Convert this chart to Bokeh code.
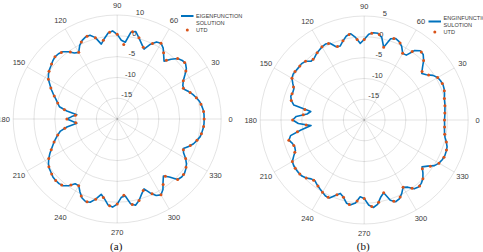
import numpy as np
from bokeh.plotting import figure
from bokeh.models import Range1d
from bokeh.embed import file_html
from bokeh.resources import INLINE
from bokeh.core.properties import value

# ---------------------------------------------------------------- data
# Field patterns in dB, sampled every 3 degrees from 0 to 357
EIG_ANGLES = list(range(0, 360, 3))
EIG_A = [
    0.9, 0.9, 0.8, 0.55, 0.25, -0.3, -0.9, -1.6, -2.4, -2.3,
    -1.65, -0.6, 0.55, 1.15, 1.05, 0.55, -0.65, -2.1, -1.0, 0.3,
    1.05, 0.8, -0.3, -2.0, -1.0, 0.2, 1.5, 1.15, -1.45, -1.05,
    0.35, 1.2, 0.8, -0.4, -1.6, 0.25, 1.15, 1.15, 0.7, -0.15,
    -1.5, -1.1, 0.0, 0.8, 1.1, 1.15, 0.85, 0.45, 0.15, -0.3,
    -0.9, -1.85, -2.7, -3.6, -4.5, -5.2, -5.8, -7.75, -10.25, -9.05,
    -7.9, -9.2, -10.25, -7.75, -6.05, -5.2, -4.4, -3.6, -2.8, -1.85,
    -1.0, -0.3, 0.2, 0.45, 0.8, 0.9, 0.9, 0.65, -0.15, -1.45,
    -1.5, -0.3, 0.8, 1.25, 1.05, -0.05, -1.5, -0.55, 0.8, 1.2,
    0.45, -1.15, -1.4, 0.65, 1.2, 0.3, -1.0, -2.0, -0.55, 0.65,
    1.05, 0.2, -1.25, -2.35, -1.25, 0.55, 0.85, 0.8, 0.4, -0.15,
    -1.0, -2.1, -2.6, -1.6, -0.7, -0.15, 0.4, 0.6, 0.8, 0.9,
]
EIG_B = [
    -0.7, -0.6, -0.5, -0.35, -0.2, -0.05, 0.3, 0.6, 0.75, 0.65,
    0.4, -0.3, -1.5, -2.2, -1.15, 0.2, 1.2, 1.4, 0.65, -1.4,
    -1.5, -0.15, 0.65, 1.0, 0.55, -1.9, 0.3, 1.1, 1.1, 0.65,
    -0.65, -1.55, -0.05, 1.0, 0.65, -0.3, -1.3, -1.15, 0.2, 0.5,
    0.3, -0.05, -0.4, -0.9, -0.95, -0.05, 0.25, 0.2, 0.25, 0.35,
    0.05, -0.75, -1.5, -1.6, -1.45, -1.85, -2.7, -7.0, -6.2, -3.65,
    -2.8, -4.15, -7.15, -4.6, -1.9, -1.25, -1.85, -2.1, -1.9, -1.0,
    -0.05, 0.2, 0.25, 0.25, 0.15, -0.3, -0.95, -1.2, -0.75, -0.35,
    0.05, 0.5, 0.5, -0.55, -1.45, -0.75, 0.45, 0.65, 0.05, -1.5,
    -1.15, 0.45, 1.15, 0.55, -1.0, -1.9, 0.3, 1.05, 0.75, -0.15,
    -1.3, -0.75, 0.45, 0.75, 0.5, -0.05, -1.0, -2.1, -1.15, 0.15,
    0.75, 1.05, 1.2, 1.1, 0.95, 0.45, -0.15, -0.45, -0.6, -0.65,
]

# UTD results in dB, every 5 degrees from 0 to 355
UTD_ANGLES = list(range(0, 360, 5))
UTD_A = [
    0.9, 0.85, 0.45, -0.3, -1.35, -2.45, -1.65, 0.15, 1.15, 0.55,
    -1.6, -0.55, 1.05, 0.05, -1.65, 0.2, 1.3, -2.0, 0.35, 0.95,
    -0.8, 0.25, 1.2, 0.4, -1.5, -0.35, 0.9, 1.15, 0.6, 0.0,
    -0.9, -2.4, -3.9, -5.2, -7.1, -9.9, -7.9, -10.0, -7.2, -5.2,
    -3.85, -2.5, -1.0, 0.05, 0.55, 0.9, 0.75, -0.6, -1.5, 0.45,
    1.2, -0.05, -0.85, 0.95, 0.45, -1.6, 0.85, 0.3, -1.7, -0.15,
    1.05, -0.75, -2.0, 0.55, 0.8, 0.2, -1.0, -2.45, -1.3, -0.15,
    0.55, 0.85,
]
UTD_B = [
    -0.7, -0.55, -0.3, -0.05, 0.5, 0.72, 0.4, -1.1, -1.85, 0.2,
    1.35, 0.1, -1.5, 0.4, 0.85, -1.9, 0.85, 0.95, -0.65, -0.55,
    0.9, -0.3, -1.2, 0.3, 0.3, -0.3, -0.9, -0.05, 0.2, 0.3,
    0.05, -1.25, -1.55, -1.85, -5.5, -5.3, -2.8, -6.0, -3.7, -1.25,
    -2.0, -1.6, -0.05, 0.25, 0.2, -0.3, -1.1, -0.6, 0.05, 0.5,
    -0.85, -0.75, 0.6, -0.45, -1.15, 0.9, 0.05, -1.9, 0.8, 0.45,
    -1.3, 0.05, 0.7, -0.05, -1.75, -0.6, 0.75, 1.15, 1.05, 0.45,
    -0.35, -0.6,
]

THETA_TICKS = list(range(0, 360, 30))
R_TICKS = [-15, -10, -5, 0, 5]
R_LABELS_A = ["-15", "-10", "-5", "0", "10"]
R_LABELS_B = ["-15", "-10", "-5", "0", "5"]
LEGEND_A = ["EIGENFUNCTION", "SOLUTION", "UTD"]
LEGEND_B = ["ENGINFUNCTION", "SULOTION", "UTD"]

# ---------------------------------------------------------------- layout
W, H = 483, 252
R_MIN, R_MAX = -20.0, 5.0      # dB at centre / outer ring
R_PIX = 104.0                  # outer ring radius
BLUE = "#0072BD"
RED = "#D95319"
TXT = "#262626"
SANS = value("Liberation Sans")

p = figure(width=W, height=H, x_range=Range1d(0, W), y_range=Range1d(H, 0),
           output_backend="svg", toolbar_location=None,
           x_axis_location=None, y_axis_location=None, min_border=0)
p.grid.visible = False
p.outline_line_color = None
p.background_fill_color = "white"


def rad(db):
    return (np.asarray(db, dtype=float) - R_MIN) / (R_MAX - R_MIN) * R_PIX


def to_xy(cx, cy, ang_deg, r):
    t = np.deg2rad(np.asarray(ang_deg, dtype=float))
    return cx + r * np.cos(t), cy - r * np.sin(t)


def polar_panel(cx, cy, eig, utd, rlabels, legend, leg_x, leg_y, leg_line_y, tag):
    # grid rings and spokes
    rings = rad(R_TICKS)
    p.circle(x=[cx] * len(rings), y=[cy] * len(rings), radius=rings,
             fill_color=None, line_color=TXT, line_alpha=0.14, line_width=0.9)
    sx, sy = to_xy(cx, cy, THETA_TICKS, R_PIX)
    p.segment(x0=[cx] * len(sx), y0=[cy] * len(sy), x1=sx, y1=sy,
              line_color=TXT, line_alpha=0.14, line_width=0.9)

    # angle labels
    lx, ly = to_xy(cx, cy, THETA_TICKS, R_PIX + 9.5)
    p.text(x=lx, y=ly, text=[str(a) for a in THETA_TICKS], text_font=SANS,
           text_font_size=value("7.5px"), text_color="#3a3a3a",
           text_align="center", text_baseline="middle")

    # radial labels along 80 degrees
    rx, ry = to_xy(cx, cy, [80] * len(rings), rings)
    p.text(x=rx + 0.5, y=ry - 1.5, text=rlabels, text_font=SANS,
           text_font_size=value("7.5px"), text_color="#3a3a3a",
           text_align="left", text_baseline="bottom")

    # pattern curves
    ang = EIG_ANGLES + [EIG_ANGLES[0] + 360]
    vals = eig + [eig[0]]
    ex, ey = to_xy(cx, cy, ang, rad(vals))
    p.line(ex, ey, line_color=BLUE, line_width=1.6, line_join="round")
    ux, uy = to_xy(cx, cy, UTD_ANGLES, rad(utd))
    p.scatter(ux, uy, size=3.0, fill_color=RED, line_color=None)

    # legend
    p.segment(x0=[leg_x - 15], y0=[leg_line_y], x1=[leg_x - 2.5], y1=[leg_line_y],
              line_color=BLUE, line_width=1.8)
    p.scatter([leg_x - 8.7], [leg_y + 14.5], size=3.0, fill_color=RED, line_color=None)
    p.text(x=[leg_x] * 3, y=[leg_y, leg_y + 7.2, leg_y + 14.5], text=legend,
           text_font=SANS, text_font_size=value("5.6px"), text_color="#3a3a3a",
           text_align="left", text_baseline="middle")

    # panel tag
    p.text(x=[cx - 1], y=[245.5], text=[tag], text_font=value("Liberation Serif"),
           text_font_size=value("11px"), text_color="#111111",
           text_align="center", text_baseline="middle")


polar_panel(116.7, 118.5, EIG_A, UTD_A, R_LABELS_A, LEGEND_A,
            195.5, 15.0, 15.5, "(a)")
polar_panel(363.7, 119.5, EIG_B, UTD_B, R_LABELS_B, LEGEND_B,
            443.0, 17.0, 21.0, "(b)")

open("out.html", "w").write(file_html(p, INLINE))
